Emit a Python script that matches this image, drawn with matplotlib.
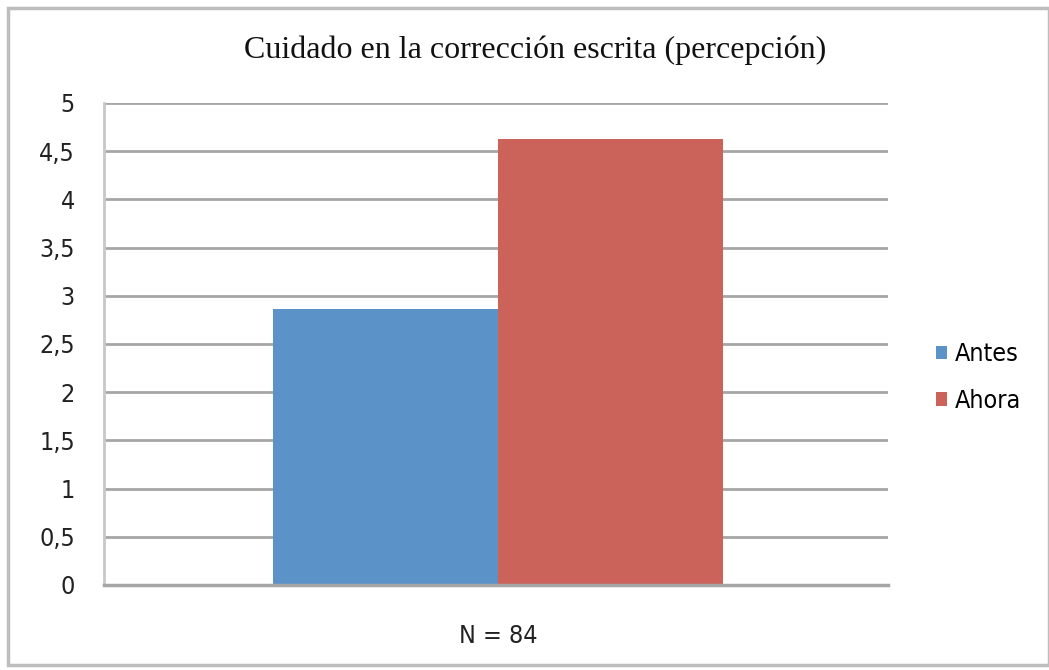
import matplotlib
matplotlib.use("Agg")
import matplotlib.pyplot as plt
from matplotlib.patches import Rectangle
import numpy as np

# Chart data
category = ["N = 84"]
series_names = ["Antes", "Ahora"]
series_values = [[2.86], [4.63]]
series_colors = ["#5B93C8", "#CB635B"]
yticks = [0, 0.5, 1, 1.5, 2, 2.5, 3, 3.5, 4, 4.5, 5]
ytick_labels = ["0", "0,5", "1", "1,5", "2", "2,5", "3", "3,5", "4", "4,5", "5"]

label_font = dict(family="DejaVu Sans", stretch="condensed", size=18)

fig = plt.figure(figsize=(10.49, 6.70), dpi=100)
fig.patch.set_facecolor("white")

# outer frame of the chart area
fig.patches.append(Rectangle((8 / 1049, 5 / 670), 1 - 8 / 1049, 1 - 13 / 670,
                             transform=fig.transFigure, fill=False,
                             edgecolor="#BDBDBD", linewidth=2.5))

ax_w = 784
ax = fig.add_axes([104 / 1049, 1 - 585 / 670, ax_w / 1049, 482 / 670])

x = np.arange(len(category))
group_width = 450 / ax_w
bar_w = group_width / len(series_names)
for i, (name, vals, col) in enumerate(zip(series_names, series_values, series_colors)):
    offset = (i - (len(series_names) - 1) / 2) * bar_w
    ax.bar(x + offset, vals, width=bar_w, color=col, label=name, zorder=3)

# category slightly right of the plot centre
ax.set_xlim(-394 / ax_w, 390 / ax_w)
ax.set_ylim(0, 5)
ax.set_yticks(yticks)
ax.set_yticklabels(ytick_labels, color="#222222", **label_font)
ax.set_xticks(x)
ax.set_xticklabels(category, color="#222222", **label_font)
ax.tick_params(axis="both", length=0)
ax.tick_params(axis="y", pad=21)
ax.tick_params(axis="x", pad=28)

ax.grid(axis="y", color="#A6A6A6", linewidth=2, zorder=0)
for s in ["right", "top"]:
    ax.spines[s].set_visible(False)
ax.spines["left"].set_color("#C8C8C8")
ax.spines["left"].set_linewidth(2)
ax.spines["bottom"].set_color("#A6A6A6")
ax.spines["bottom"].set_linewidth(2.5)
ax.spines["bottom"].set_zorder(4)

fig.text(535 / 1049, 1 - 50 / 670, "Cuidado en la corrección escrita (percepción)",
         ha="center", va="center", family="Liberation Serif", fontsize=23,
         color="#111111")

leg = ax.legend(loc="center left", bbox_to_anchor=(1.032, 0.43), frameon=False,
                prop=label_font,
                handlelength=0.45, handleheight=0.45, handletextpad=0.3,
                labelspacing=0.9)

fig.savefig("out.png", dpi=100)
